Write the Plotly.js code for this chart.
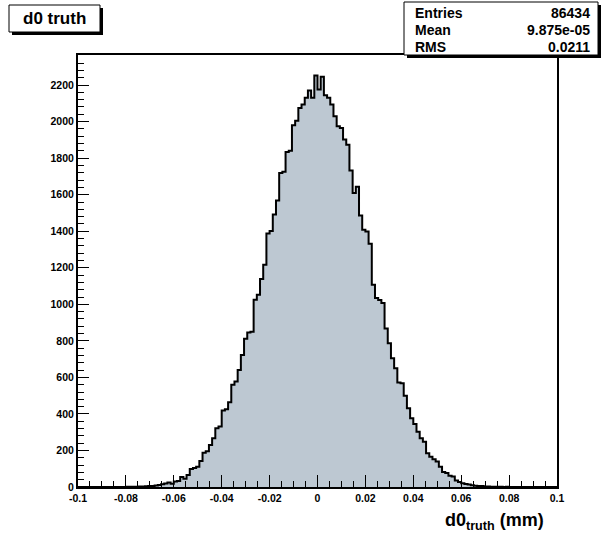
<!DOCTYPE html>
<html>
<head>
<meta charset="utf-8">
<script src="https://cdn.plot.ly/plotly-3.0.1.min.js"></script>
<style>
html,body{margin:0;padding:0;background:#fff;}
#chart{width:609px;height:543px;}
</style>
</head>
<body>
<div id="chart"></div>
<script>
// ---- data ----
const histTitle = "d0 truth";
const binLow = -0.1;
const binHigh = 0.1;
const nBins = 150;
const counts = [
  0,0,0,0,0,0,0,0,0,0,
  0,0,0,0,0,1,1,2,2,3,
  3,4,5,6,8,11,15,19,24,18,
  30,33,55,45,66,98,104,111,142,188,
  195,230,267,322,331,419,426,464,559,577,
  641,723,812,846,850,1025,1052,1138,1217,1388,
  1401,1491,1568,1719,1725,1834,1840,1980,2005,2075,
  2093,2130,2170,2130,2252,2176,2245,2144,2130,2093,
  2029,1975,1965,1902,1874,1732,1609,1644,1486,1408,
  1399,1332,1107,1034,1024,1007,868,787,705,650,
  572,568,499,431,376,345,303,267,248,185,
  166,152,139,111,82,76,61,57,35,28,
  20,17,14,10,7,6,5,3,3,2,
  2,1,1,0,1,0,0,0,0,0,
  0,0,0,0,0,0,0,0,0,0
];
const statLabels = ["Entries", "Mean", "RMS"];
const statValues = ["86434", "9.875e-05", "0.0211"];
const xTickVals = [-0.1,-0.08,-0.06,-0.04,-0.02,0,0.02,0.04,0.06,0.08,0.1];
const xTickText = ["-0.1","-0.08","-0.06","-0.04","-0.02","0","0.02","0.04","0.06","0.08","0.1"];
const yTickVals = [0,200,400,600,800,1000,1200,1400,1600,1800,2000,2200];
const yTickText = ["0","200","400","600","800","1000","1200","1400","1600","1800","2000","2200"];
const xTitle = "d0<sub>truth</sub> (mm)";

// ---- build ----
const bw = (binHigh - binLow) / nBins;
const edges = [];
for (let i = 0; i <= nBins; i++) edges.push(binLow + i * bw);
const yStep = counts.concat([counts[counts.length - 1]]);
const ymax = Math.max(...counts) * 1.05;

const W = 609, H = 543;
const L = 78, R = 557, T = 55, B = 487;
const px = x => (x - L) / (R - L);
const py = y => (B - y) / (B - T);
const FONT = "Liberation Sans, Arial, Helvetica, sans-serif";

const shapes = [];
const annotations = [];
function box(x0, y0, x1, y1, sh) {
  shapes.push({type:'rect', xref:'paper', yref:'paper', x0:px(x0+sh), x1:px(x1+sh), y0:py(y1+sh), y1:py(y0+sh),
    fillcolor:'#000', line:{width:0}, layer:'above'});
  shapes.push({type:'rect', xref:'paper', yref:'paper', x0:px(x0), x1:px(x1), y0:py(y1), y1:py(y0),
    fillcolor:'#fff', line:{color:'#000', width:1}, layer:'above'});
}
box(9, 5, 100, 32, 3);
box(404, 2, 598, 55, 3);
annotations.push({xref:'paper', yref:'paper', x:px(54.5), y:py(18.5), xanchor:'center', yanchor:'middle',
  text:'<b>' + histTitle + '</b>', showarrow:false, font:{family:FONT, size:17, color:'#000'}});
for (let i = 0; i < statLabels.length; i++) {
  const yy = 13.5 + i * 16.5;
  annotations.push({xref:'paper', yref:'paper', x:px(413), y:py(yy), xanchor:'left', yanchor:'middle',
    text:'<b>' + statLabels[i] + '</b>', showarrow:false, font:{family:FONT, size:14, color:'#000'}});
  annotations.push({xref:'paper', yref:'paper', x:px(592), y:py(yy), xanchor:'right', yanchor:'middle',
    text:'<b>' + statValues[i] + '</b>', showarrow:false, font:{family:FONT, size:14, color:'#000'}});
}
annotations.push({xref:'paper', yref:'paper', x:px(546), y:py(521), xanchor:'right', yanchor:'middle',
  text:'<b>' + xTitle + '</b>', showarrow:false, font:{family:FONT, size:18, color:'#000'}});

const trace = {
  type:'scatter', mode:'lines', x:edges, y:yStep,
  line:{shape:'hv', color:'#000', width:2},
  fill:'tozeroy', fillcolor:'#bdc8d2', hoverinfo:'skip'
};

const layout = {
  width:W, height:H,
  margin:{l:L, r:W-R, t:T, b:H-B, pad:0},
  paper_bgcolor:'#fff', plot_bgcolor:'#fff',
  showlegend:false,
  xaxis:{range:[binLow, binHigh], tickmode:'array', tickvals:xTickVals, ticktext:xTickText,
    ticks:'inside', ticklen:12, tickwidth:1, tickcolor:'#000',
    minor:{dtick:0.005, ticks:'inside', ticklen:6, tickwidth:1, tickcolor:'#000', showgrid:false},
    showgrid:false, zeroline:false, showline:true, linecolor:'#000', linewidth:2, mirror:true,
    tickfont:{family:FONT, size:10.5, color:'#000', weight:'bold'}},
  yaxis:{range:[0, ymax], tickmode:'array', tickvals:yTickVals, ticktext:yTickText,
    ticks:'inside', ticklen:11, tickwidth:1, tickcolor:'#000',
    minor:{dtick:40, ticks:'inside', ticklen:6, tickwidth:1, tickcolor:'#000', showgrid:false},
    showgrid:false, zeroline:false, showline:true, linecolor:'#000', linewidth:2, mirror:true,
    tickfont:{family:FONT, size:10.5, color:'#000', weight:'bold'}},
  shapes:shapes, annotations:annotations
};
Plotly.newPlot('chart', [trace], layout, {staticPlot:true, displayModeBar:false});
</script>
</body>
</html>
